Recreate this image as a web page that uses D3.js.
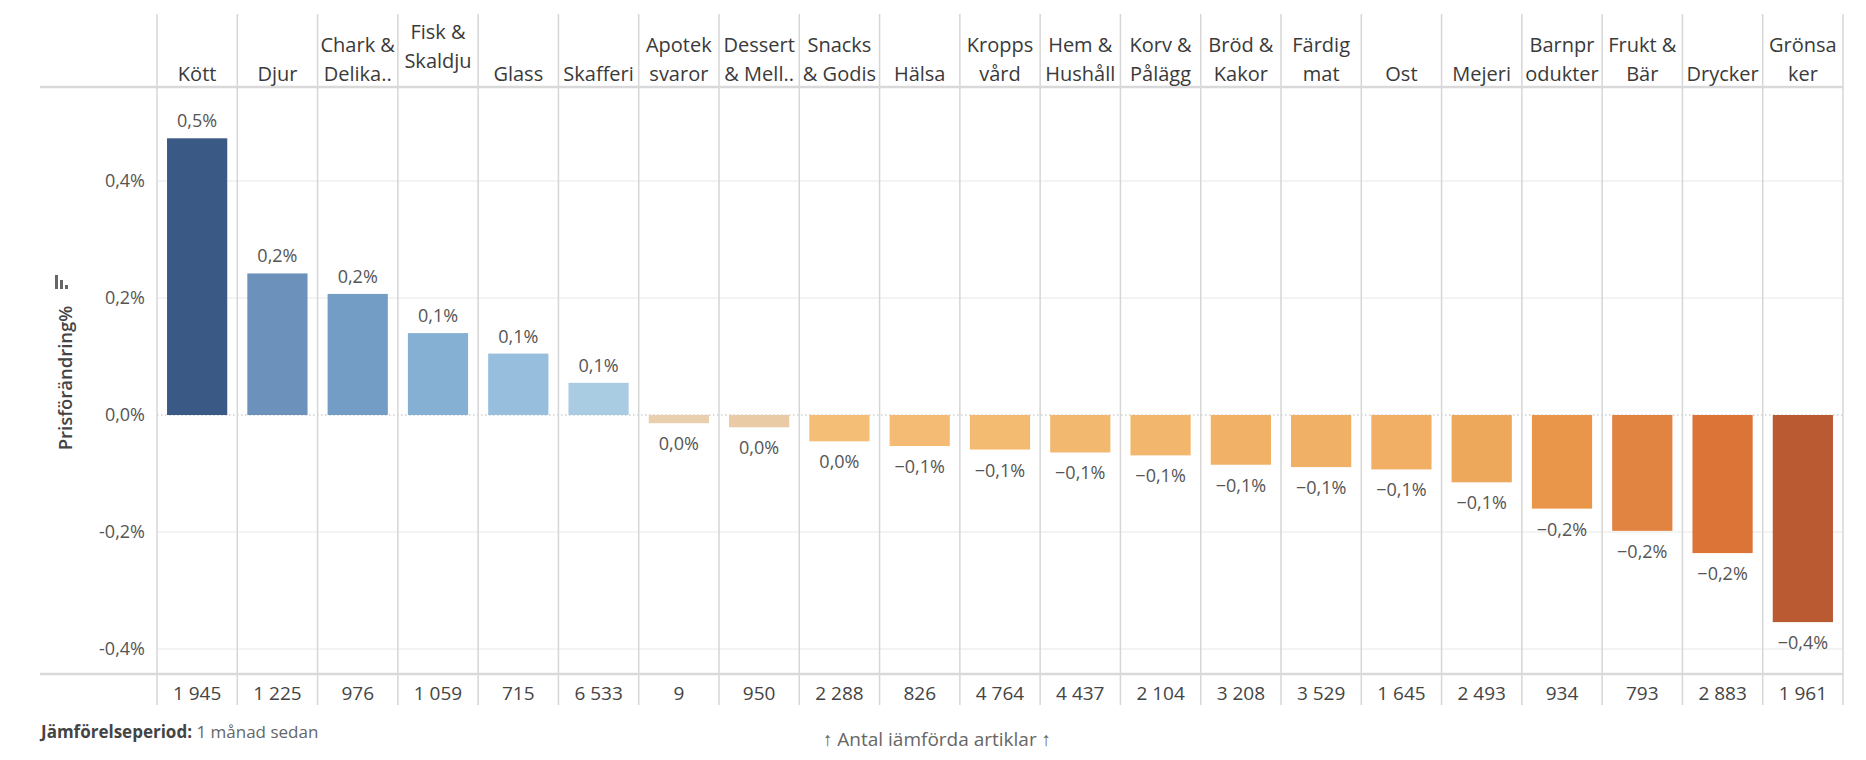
<!DOCTYPE html>
<html>
<head>
<meta charset="utf-8">
<script src="https://cdn.jsdelivr.net/npm/d3@7"></script>
<style>
  body { margin: 0; background: #fff; }
  text { font-family: "Open Sans", "Noto Sans", sans-serif; }
</style>
</head>
<body>
<div id="chart"></div>
<script>
// kategorier, så som rubrikerna radbryts i originalet
const categories = ["Kött", "Djur", "Chark & Delikatess", "Fisk & Skaldjur", "Glass", "Skafferi",
  "Apoteksvaror", "Dessert & Mellanmål", "Snacks & Godis", "Hälsa", "Kroppsvård", "Hem & Hushåll",
  "Korv & Pålägg", "Bröd & Kakor", "Färdigmat", "Ost", "Mejeri", "Barnprodukter", "Frukt & Bär",
  "Drycker", "Grönsaker"];
const headerLines = [["Kött"], ["Djur"], ["Chark &", "Delika.."], ["Fisk &", "Skaldju", "r.."], ["Glass"],
  ["Skafferi"], ["Apotek", "svaror"], ["Dessert", "& Mell.."], ["Snacks", "& Godis"], ["Hälsa"],
  ["Kropps", "vård"], ["Hem &", "Hushåll"], ["Korv &", "Pålägg"], ["Bröd &", "Kakor"], ["Färdig", "mat"],
  ["Ost"], ["Mejeri"], ["Barnpr", "odukter"], ["Frukt &", "Bär"], ["Drycker"], ["Grönsa", "ker"]];

// prisförändring i procent
const priceChange = [0.473, 0.242, 0.207, 0.140, 0.105, 0.055, -0.014, -0.021, -0.045, -0.053, -0.059,
  -0.064, -0.069, -0.085, -0.089, -0.093, -0.115, -0.160, -0.198, -0.236, -0.354];

// antal jämförda artiklar
const itemCounts = [1945, 1225, 976, 1059, 715, 6533, 9, 950, 2288, 826, 4764, 4437, 2104, 3208, 3529,
  1645, 2493, 934, 793, 2883, 1961];

const yTicks = [-0.4, -0.2, 0, 0.2, 0.4];

// divergerande färgskala (orange - blå)
const colorStops = [-0.354, -0.236, -0.198, -0.160, -0.115, -0.045, -0.025, 0, 0.055, 0.105, 0.140, 0.207, 0.242, 0.473];
const colorRange = ["#b95a33", "#dc7438", "#e18341", "#ea964a", "#eea85b", "#f4be77", "#e9caa0", "#e6d6bd",
  "#a9cce3", "#97bedd", "#86b0d3", "#739dc5", "#6c92bc", "#3a5a85"];

const width = 1866, height = 760;
const left = 157, right = 1843;
const headTop = 14, headBottom = 87, plotBottom = 674, countBottom = 705;

const tickLocale = d3.formatLocale({decimal: ",", thousands: " ", grouping: [3], currency: ["", ""], minus: "-"});
const valueLocale = d3.formatLocale({decimal: ",", thousands: " ", grouping: [3], currency: ["", ""], minus: "\u2212"});
const tickFmt = v => tickLocale.format(".1f")(v) + "%";
const valueFmt = v => valueLocale.format(".1f")(v) + "%";
const countFmt = valueLocale.format(",d");

const svg = d3.select("#chart").append("svg")
  .attr("width", width)
  .attr("height", height);

const x = d3.scaleBand()
  .domain(categories)
  .range([left, right])
  .paddingInner(0.25)
  .paddingOuter(0.125);
const step = x.step();

const y = d3.scaleLinear()
  .domain([-0.4427, 0.5607])
  .range([plotBottom, headBottom]);

const color = d3.scaleLinear().domain(colorStops).range(colorRange);

// rutnät
svg.append("g")
  .selectAll("line")
  .data(yTicks.filter(d => d !== 0))
  .enter()
  .append("line")
  .attr("x1", left).attr("x2", right)
  .attr("y1", d => y(d)).attr("y2", d => y(d))
  .style("stroke", "#efefef")
  .style("stroke-width", 1.5);

svg.append("line")
  .attr("x1", left).attr("x2", right)
  .attr("y1", y(0)).attr("y2", y(0))
  .style("stroke", "#b8b8b8")
  .style("stroke-width", 1.2)
  .style("stroke-dasharray", "1.5,2.5");

// kolumnlinjer
svg.append("g")
  .selectAll("line")
  .data(d3.range(categories.length + 1))
  .enter()
  .append("line")
  .attr("x1", i => left + i * step).attr("x2", i => left + i * step)
  .attr("y1", headTop).attr("y2", countBottom)
  .style("stroke", "#d6d6d6")
  .style("stroke-width", 1.5);

[headBottom, plotBottom].forEach(yy => {
  svg.append("line")
    .attr("x1", 40).attr("x2", right)
    .attr("y1", yy).attr("y2", yy)
    .style("stroke", "#d9d9d9")
    .style("stroke-width", 2.5);
});

// staplar
svg.append("g")
  .selectAll("rect")
  .data(priceChange)
  .enter()
  .append("rect")
  .attr("x", (d, i) => x(categories[i]))
  .attr("width", x.bandwidth())
  .attr("y", d => y(Math.max(d, 0)))
  .attr("height", d => Math.abs(y(d) - y(0)))
  .style("fill", d => color(d));

// värdeetiketter
svg.append("g")
  .selectAll("text")
  .data(priceChange)
  .enter()
  .append("text")
  .attr("x", (d, i) => x(categories[i]) + x.bandwidth() / 2)
  .attr("y", d => d >= 0 ? y(d) - 11 : y(d) + 27)
  .attr("text-anchor", "middle")
  .style("font-size", "18px")
  .style("fill", "#555")
  .text(d => valueFmt(d));

// y-axel
const yAxis = svg.append("g")
  .attr("transform", `translate(${left},0)`)
  .call(d3.axisLeft(y).tickValues(yTicks).tickFormat(tickFmt).tickSize(0).tickPadding(12));
yAxis.select(".domain").remove();
yAxis.selectAll("text")
  .style("font-family", '"Open Sans", sans-serif')
  .style("font-size", "18px")
  .style("fill", "#555");

const yTitle = svg.append("g").attr("transform", "translate(72,378) rotate(-90)");
yTitle.append("text")
  .attr("text-anchor", "middle")
  .style("font-size", "18.5px")
  .style("font-weight", 600)
  .style("fill", "#444")
  .text("Prisförändring%");
// sorteringsikon
[[14, 0], [9, 5], [4, 10]].forEach(([len, off]) => {
  yTitle.append("rect")
    .attr("x", 89)
    .attr("y", -17 + off)
    .attr("width", len)
    .attr("height", 3)
    .style("fill", "#666");
});

// kolumnrubriker
svg.append("clipPath").attr("id", "headClip")
  .append("rect")
  .attr("x", left).attr("y", headTop)
  .attr("width", right - left).attr("height", headBottom - headTop - 1);

const heads = svg.append("g")
  .attr("clip-path", "url(#headClip)")
  .selectAll("text")
  .data(headerLines)
  .enter()
  .append("text")
  .attr("text-anchor", "middle")
  .style("font-size", "20px")
  .style("fill", "#3a3a3a");

heads.each(function (lines, i) {
  const first = lines.length > 2 ? 39 : 81 - (lines.length - 1) * 29;
  d3.select(this).selectAll("tspan")
    .data(lines)
    .enter()
    .append("tspan")
    .attr("x", x(categories[i]) + x.bandwidth() / 2)
    .attr("y", (d, j) => first + j * 29)
    .text(d => d);
});

// antal artiklar
svg.append("g")
  .selectAll("text")
  .data(itemCounts)
  .enter()
  .append("text")
  .attr("x", (d, i) => x(categories[i]) + x.bandwidth() / 2)
  .attr("y", 700)
  .attr("text-anchor", "middle")
  .style("font-size", "19px")
  .style("fill", "#444")
  .text(d => countFmt(d));

// fotnoter
const foot = svg.append("text")
  .attr("x", 41)
  .attr("y", 738)
  .style("font-size", "17px")
  .style("fill", "#666");
foot.append("tspan").style("font-weight", 700).style("fill", "#444").text("Jämförelseperiod:");
foot.append("tspan").text(" 1 månad sedan");

svg.append("text")
  .attr("x", 937)
  .attr("y", 746)
  .attr("text-anchor", "middle")
  .style("font-size", "19px")
  .style("fill", "#666")
  .text("\u2191 Antal iämförda artiklar \u2191");
</script>
</body>
</html>
